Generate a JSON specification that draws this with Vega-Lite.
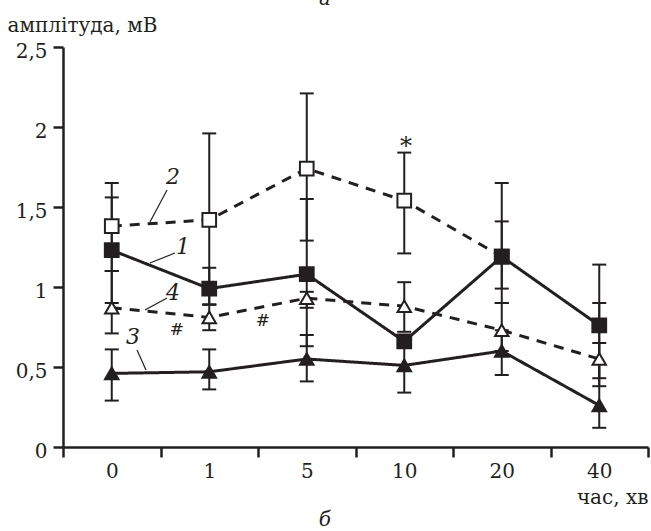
{
  "$schema": "https://vega.github.io/schema/vega-lite/v6.json",
  "width": 585,
  "height": 400,
  "autosize": {"type": "none"},
  "padding": {"left": 63, "top": 47, "right": 3, "bottom": 84},
  "background": "white",
  "config": {
    "view": {"stroke": null},
    "font": "DejaVu Serif"
  },
  "datasets": {
    "pts": [
      {"time": "0", "idx": 0, "series": "2", "value": 1.38},
      {"time": "1", "idx": 1, "series": "2", "value": 1.42},
      {"time": "5", "idx": 2, "series": "2", "value": 1.74},
      {"time": "10", "idx": 3, "series": "2", "value": 1.54},
      {"time": "20", "idx": 4, "series": "2", "value": 1.19},
      {"time": "0", "idx": 0, "series": "3", "value": 0.46},
      {"time": "1", "idx": 1, "series": "3", "value": 0.47},
      {"time": "5", "idx": 2, "series": "3", "value": 0.55},
      {"time": "10", "idx": 3, "series": "3", "value": 0.51},
      {"time": "20", "idx": 4, "series": "3", "value": 0.60},
      {"time": "40", "idx": 5, "series": "3", "value": 0.26},
      {"time": "0", "idx": 0, "series": "4", "value": 0.87},
      {"time": "1", "idx": 1, "series": "4", "value": 0.81},
      {"time": "5", "idx": 2, "series": "4", "value": 0.93},
      {"time": "10", "idx": 3, "series": "4", "value": 0.88},
      {"time": "20", "idx": 4, "series": "4", "value": 0.73},
      {"time": "40", "idx": 5, "series": "4", "value": 0.55},
      {"time": "0", "idx": 0, "series": "1", "value": 1.23},
      {"time": "1", "idx": 1, "series": "1", "value": 0.99},
      {"time": "5", "idx": 2, "series": "1", "value": 1.08},
      {"time": "10", "idx": 3, "series": "1", "value": 0.66},
      {"time": "20", "idx": 4, "series": "1", "value": 1.19},
      {"time": "40", "idx": 5, "series": "1", "value": 0.76}
    ],
    "err": [
      {"idx": 0, "series": "1", "lo": 0.90, "hi": 1.56},
      {"idx": 1, "series": "1", "lo": 0.89, "hi": 1.12},
      {"idx": 2, "series": "1", "lo": 0.63, "hi": 1.55},
      {"idx": 3, "series": "1", "lo": 0.63, "hi": 0.70},
      {"idx": 4, "series": "1", "lo": 0.99, "hi": 1.41},
      {"idx": 5, "series": "1", "lo": 0.38, "hi": 1.14},
      {"idx": 0, "series": "2", "lo": 1.10, "hi": 1.65},
      {"idx": 1, "series": "2", "lo": 0.89, "hi": 1.96},
      {"idx": 2, "series": "2", "lo": 1.29, "hi": 2.21},
      {"idx": 3, "series": "2", "lo": 1.21, "hi": 1.84},
      {"idx": 4, "series": "2", "lo": 0.90, "hi": 1.65},
      {"idx": 0, "series": "3", "lo": 0.29, "hi": 0.61},
      {"idx": 1, "series": "3", "lo": 0.36, "hi": 0.61},
      {"idx": 2, "series": "3", "lo": 0.41, "hi": 0.70},
      {"idx": 3, "series": "3", "lo": 0.34, "hi": 0.66},
      {"idx": 4, "series": "3", "lo": 0.45, "hi": 0.73},
      {"idx": 5, "series": "3", "lo": 0.12, "hi": 0.65},
      {"idx": 0, "series": "4", "lo": 0.71, "hi": 1.10},
      {"idx": 1, "series": "4", "lo": 0.73, "hi": 0.89},
      {"idx": 2, "series": "4", "lo": 0.87, "hi": 0.97},
      {"idx": 3, "series": "4", "lo": 0.72, "hi": 1.03},
      {"idx": 4, "series": "4", "lo": 0.60, "hi": 0.90},
      {"idx": 5, "series": "4", "lo": 0.43, "hi": 0.90}
    ],
    "leaders": [
      {"label": "2", "x": 0.567, "y": 1.606, "x2": 0.392, "y2": 1.406},
      {"label": "1", "x": 0.649, "y": 1.2125, "x2": 0.392, "y2": 1.15},
      {"label": "4", "x": 0.567, "y": 0.931, "x2": 0.341, "y2": 0.856},
      {"label": "3", "x": 0.259, "y": 0.606, "x2": 0.351, "y2": 0.481}
    ],
    "labels": [
      {"text": "2", "x": 0.628, "y": 1.69, "kind": "italic"},
      {"text": "1", "x": 0.731, "y": 1.25, "kind": "italic"},
      {"text": "4", "x": 0.628, "y": 0.96, "kind": "italic"},
      {"text": "3", "x": 0.218, "y": 0.69, "kind": "italic"},
      {"text": "#", "x": 0.669, "y": 0.73, "kind": "plain"},
      {"text": "#", "x": 1.551, "y": 0.79, "kind": "plain"},
      {"text": "*", "x": 3.018, "y": 1.875, "kind": "star"},
      {"text": "а", "x": 2.187, "y": 2.80, "kind": "caption"},
      {"text": "б", "x": 2.187, "y": -0.456, "kind": "caption"}
    ]
  },
  "layer": [
    {
      "data": {"name": "err"},
      "mark": {"type": "rule", "color": "#231f20", "strokeWidth": 2},
      "encoding": {
        "x": {"field": "idx", "type": "quantitative", "scale": {"domain": [-0.5, 5.5], "nice": false, "zero": false},
          "axis": {"title": "час, хв", "grid": false, "domainColor": "#231f20", "domainWidth": 2.5, "tickColor": "#231f20", "tickWidth": 2.5, "labelColor": "#231f20", "titleColor": "#231f20",
            "labelFont": "DejaVu Serif", "labelFontSize": 20, "titleFont": "DejaVu Serif", "titleFontSize": 20, "titleFontWeight": "normal",
            "values": [-0.5, 0, 0.5, 1, 1.5, 2, 2.5, 3, 3.5, 4, 4.5, 5, 5.5], "tickSize": 10, "labelPadding": 4, "labelOverlap": false, "labelFlush": false, "labelBound": false,
            "tickOpacity": {"condition": {"test": "datum.value % 1 === 0", "value": 0}, "value": 1},
            "labelExpr": "datum.value % 1 !== 0 ? '' : ['0','1','5','10','20','40'][datum.value]",
            "titleAlign": "right", "titleAnchor": "end", "titleX": 585, "titleY": 56, "titleBaseline": "alphabetic"}},
        "y": {"field": "lo", "type": "quantitative", "scale": {"domain": [0, 2.5], "nice": false},
          "axis": {"title": "амплітуда, мВ", "grid": false, "domainColor": "#231f20", "domainWidth": 2.5, "tickColor": "#231f20", "tickWidth": 2.5, "labelColor": "#231f20", "titleColor": "#231f20",
            "labelFont": "DejaVu Serif", "labelFontSize": 20, "titleFont": "DejaVu Serif", "titleFontSize": 20, "titleFontWeight": "normal",
            "values": [0, 0.5, 1, 1.5, 2, 2.5], "format": "~g", "labelExpr": "replace(datum.label, '.', ',')", "tickSize": 10, "labelPadding": 6, "labelOffset": 4, "labelOverlap": false, "labelFlush": false,
            "titleAngle": 0, "titleAlign": "left", "titleAnchor": "start", "titleX": -56, "titleY": -16, "titleBaseline": "alphabetic"}},
        "y2": {"field": "hi"}
      }
    },
    {
      "data": {"name": "err"},
      "transform": [{"fold": ["lo", "hi"], "as": ["end", "v"]}],
      "mark": {"type": "tick", "orient": "horizontal", "color": "#231f20", "size": 14, "thickness": 2, "opacity": 1},
      "encoding": {
        "x": {"field": "idx", "type": "quantitative"},
        "y": {"field": "v", "type": "quantitative"}
      }
    },
    {
      "data": {"name": "pts"},
      "mark": {"type": "line", "color": "#231f20", "strokeWidth": 3},
      "encoding": {
        "x": {"field": "idx", "type": "quantitative"},
        "y": {"field": "value", "type": "quantitative"},
        "detail": {"field": "series"},
        "strokeDash": {"field": "series", "type": "nominal", "scale": {"domain": ["1", "2", "3", "4"], "range": [[1, 0], [10, 8], [1, 0], [10, 8]]}, "legend": null}
      }
    },
    {
      "data": {"name": "pts"},
      "mark": {"type": "point", "stroke": "#231f20", "strokeWidth": 2, "opacity": 1, "fillOpacity": 1},
      "encoding": {
        "x": {"field": "idx", "type": "quantitative"},
        "y": {"field": "value", "type": "quantitative"},
        "shape": {"field": "series", "type": "nominal", "scale": {"domain": ["1", "2", "3", "4"], "range": ["square", "square", "triangle-up", "triangle-up"]}, "legend": null},
        "size": {"field": "series", "type": "nominal", "scale": {"domain": ["1", "2", "3", "4"], "range": [190, 180, 240, 230]}, "legend": null},
        "fill": {"field": "series", "type": "nominal", "scale": {"domain": ["1", "2", "3", "4"], "range": ["#231f20", "#ffffff", "#231f20", "#ffffff"]}, "legend": null}
      }
    },
    {
      "data": {"name": "leaders"},
      "mark": {"type": "rule", "color": "#231f20", "strokeWidth": 1.2},
      "encoding": {
        "x": {"field": "x", "type": "quantitative"},
        "y": {"field": "y", "type": "quantitative"},
        "x2": {"field": "x2"},
        "y2": {"field": "y2"}
      }
    },
    {
      "data": {"name": "labels"},
      "transform": [{"filter": "datum.kind === 'italic'"}],
      "mark": {"type": "text", "font": "DejaVu Serif", "fontStyle": "italic", "fontSize": 22, "color": "#231f20", "baseline": "middle", "align": "center"},
      "encoding": {
        "x": {"field": "x", "type": "quantitative"},
        "y": {"field": "y", "type": "quantitative"},
        "text": {"field": "text"}
      }
    },
    {
      "data": {"name": "labels"},
      "transform": [{"filter": "datum.kind === 'plain'"}],
      "mark": {"type": "text", "font": "DejaVu Serif", "fontSize": 17, "color": "#231f20", "baseline": "middle", "align": "center"},
      "encoding": {
        "x": {"field": "x", "type": "quantitative"},
        "y": {"field": "y", "type": "quantitative"},
        "text": {"field": "text"}
      }
    },
    {
      "data": {"name": "labels"},
      "transform": [{"filter": "datum.kind === 'star'"}],
      "mark": {"type": "text", "font": "DejaVu Serif", "fontSize": 24, "color": "#231f20", "baseline": "middle", "align": "center"},
      "encoding": {
        "x": {"field": "x", "type": "quantitative"},
        "y": {"field": "y", "type": "quantitative"},
        "text": {"field": "text"}
      }
    },
    {
      "data": {"name": "labels"},
      "transform": [{"filter": "datum.kind === 'caption'"}],
      "mark": {"type": "text", "font": "DejaVu Serif", "fontStyle": "italic", "fontSize": 20, "color": "#231f20", "baseline": "middle", "align": "center"},
      "encoding": {
        "x": {"field": "x", "type": "quantitative"},
        "y": {"field": "y", "type": "quantitative"},
        "text": {"field": "text"}
      }
    }
  ]
}
